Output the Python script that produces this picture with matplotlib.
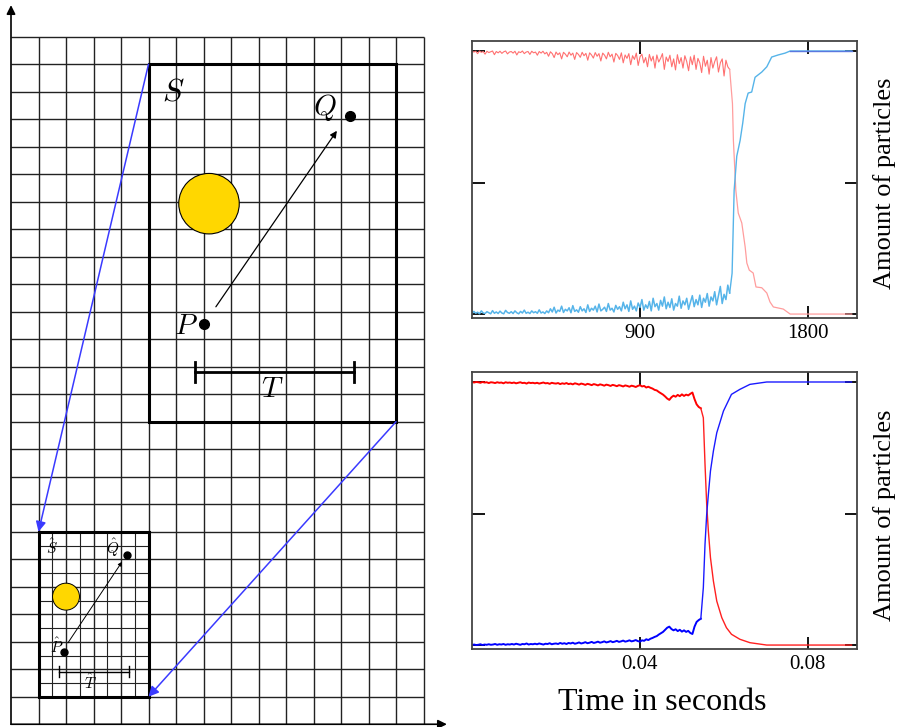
import matplotlib.pyplot as plt
from matplotlib.patches import Circle, Rectangle

plt.rcParams['font.family'] = ['Liberation Serif', 'DejaVu Serif']
plt.rcParams['mathtext.fontset'] = 'cm'

# ---- top chart: simulation steps ----
top_noise_t = list(range(0, 1381, 10))
top_red_noise = [
    1.0, 0.996, 0.999, 0.99, 1.0, 0.995, 0.998, 0.988, 0.999, 0.994,
    0.997, 1.0, 0.986, 0.998, 0.993, 0.999, 0.991, 0.997, 1.0, 0.989,
    0.996, 0.998, 0.992, 0.999, 0.985, 0.997, 0.994, 1.0, 0.99, 0.996,
    0.998, 0.987, 0.999, 0.993, 0.996, 0.984, 0.998, 0.992, 0.999, 0.989,
    0.995, 0.98, 0.997, 0.99, 0.975, 0.996, 0.986, 0.993, 0.97, 0.995,
    0.988, 0.978, 0.996, 0.984, 0.992, 0.968, 0.994, 0.987, 0.976, 0.995,
    0.982, 0.991, 0.965, 0.993, 0.985, 0.973, 0.994, 0.98, 0.99, 0.962,
    0.992, 0.984, 0.97, 0.995, 0.978, 0.988, 0.958, 0.991, 0.983, 0.968,
    0.993, 0.955, 0.985, 0.972, 0.99, 0.948, 0.982, 0.968, 0.992, 0.945,
    0.978, 0.988, 0.955, 0.975, 0.94, 0.987, 0.962, 0.98, 0.935, 0.985,
    0.958, 0.972, 0.99, 0.93, 0.977, 0.96, 0.984, 0.94, 0.97, 0.928,
    0.986, 0.952, 0.975, 0.935, 0.982, 0.96, 0.925, 0.978, 0.948, 0.984,
    0.93, 0.972, 0.955, 0.918, 0.98, 0.942, 0.965, 0.912, 0.975, 0.935,
    0.96, 0.978, 0.92, 0.955, 0.97, 0.905, 0.965, 0.94, 0.93,
]
top_blue_noise = [
    0.002, 0.01, 0.003, 0.007, 0.001, 0.012, 0.004, 0.002, 0.009, 0.005,
    0.001, 0.013, 0.003, 0.008, 0.002, 0.011, 0.004, 0.001, 0.014, 0.006,
    0.003, 0.009, 0.002, 0.012, 0.005, 0.001, 0.01, 0.004, 0.015, 0.003,
    0.007, 0.002, 0.012, 0.005, 0.009, 0.003, 0.016, 0.004, 0.008, 0.002,
    0.012, 0.005, 0.02, 0.008, 0.026, 0.004, 0.015, 0.01, 0.03, 0.006,
    0.018, 0.012, 0.024, 0.005, 0.032, 0.01, 0.016, 0.007, 0.028, 0.012,
    0.02, 0.006, 0.035, 0.01, 0.022, 0.015, 0.03, 0.008, 0.038, 0.012,
    0.018, 0.026, 0.01, 0.04, 0.015, 0.022, 0.008, 0.033, 0.018, 0.028,
    0.012, 0.045, 0.02, 0.035, 0.01, 0.05, 0.018, 0.03, 0.012, 0.042,
    0.025, 0.055, 0.015, 0.035, 0.022, 0.048, 0.012, 0.06, 0.028, 0.04,
    0.015, 0.052, 0.03, 0.065, 0.02, 0.045, 0.025, 0.058, 0.015, 0.04,
    0.03, 0.068, 0.022, 0.05, 0.035, 0.06, 0.018, 0.045, 0.07, 0.028,
    0.055, 0.035, 0.072, 0.025, 0.06, 0.045, 0.078, 0.03, 0.065, 0.05,
    0.085, 0.035, 0.07, 0.105, 0.04, 0.075, 0.055, 0.11, 0.08,
]
top_red_tail_t = [1380, 1395, 1400, 1413, 1426, 1445, 1463, 1472, 1485, 1506, 1521, 1552,
                  1579, 1596, 1614, 1667, 1704, 2034]
top_red_tail = [0.93, 0.80, 0.66, 0.47, 0.384, 0.346, 0.255, 0.194, 0.167, 0.156, 0.103, 0.10,
                0.08, 0.046, 0.027, 0.019, 0.0, 0.0]
top_blue_tail_t = [1380, 1393, 1404, 1418, 1436, 1450, 1463, 1479, 1498, 1516, 1552, 1579,
                   1605, 1640, 1677, 1704, 2034]
top_blue_tail = [0.08, 0.155, 0.47, 0.60, 0.66, 0.726, 0.80, 0.84, 0.844, 0.90, 0.92, 0.94,
                 0.977, 0.985, 0.992, 1.0, 1.0]
top_xticks = [900, 1800]

# ---- bottom chart: time in seconds ----
bot_noise_t = [i * 0.0005 for i in range(110)]
bot_red_noise = [
    1.0, 0.998, 1.0, 0.999, 0.997, 1.0, 0.998, 0.999, 0.996, 0.999,
    0.998, 0.996, 0.999, 0.997, 0.998, 0.995, 0.999, 0.997, 0.998, 0.996,
    0.998, 0.995, 0.997, 0.999, 0.996, 0.997, 0.994, 0.998, 0.996, 0.997,
    0.995, 0.997, 0.994, 0.996, 0.998, 0.995, 0.996, 0.993, 0.997, 0.995,
    0.994, 0.996, 0.992, 0.995, 0.993, 0.996, 0.992, 0.994, 0.991, 0.995,
    0.993, 0.99, 0.994, 0.992, 0.989, 0.993, 0.991, 0.988, 0.992, 0.99,
    0.987, 0.991, 0.989, 0.986, 0.99, 0.988, 0.985, 0.989, 0.987, 0.984,
    0.988, 0.986, 0.983, 0.987, 0.985, 0.982, 0.986, 0.984, 0.981, 0.985,
    0.988, 0.983, 0.985, 0.979, 0.982, 0.978, 0.975, 0.97, 0.968, 0.962,
    0.957, 0.952, 0.945, 0.937, 0.932, 0.942, 0.948, 0.944, 0.951, 0.946,
    0.953, 0.947, 0.952, 0.949, 0.955, 0.96, 0.935, 0.915, 0.905, 0.9,
]
bot_blue_noise = [
    0.0, 0.002, 0.0, 0.001, 0.003, 0.0, 0.002, 0.001, 0.003, 0.001,
    0.002, 0.004, 0.001, 0.003, 0.002, 0.004, 0.001, 0.003, 0.002, 0.004,
    0.002, 0.005, 0.003, 0.001, 0.004, 0.003, 0.006, 0.002, 0.004, 0.003,
    0.005, 0.003, 0.006, 0.004, 0.002, 0.005, 0.004, 0.007, 0.003, 0.005,
    0.006, 0.004, 0.008, 0.005, 0.007, 0.004, 0.008, 0.006, 0.009, 0.005,
    0.007, 0.01, 0.006, 0.008, 0.011, 0.007, 0.009, 0.012, 0.008, 0.01,
    0.013, 0.009, 0.011, 0.014, 0.01, 0.012, 0.015, 0.011, 0.013, 0.016,
    0.012, 0.014, 0.017, 0.013, 0.015, 0.018, 0.014, 0.016, 0.019, 0.015,
    0.013, 0.018, 0.016, 0.022, 0.019, 0.024, 0.027, 0.031, 0.034, 0.04,
    0.045, 0.05, 0.058, 0.066, 0.07, 0.061, 0.056, 0.06, 0.053, 0.058,
    0.051, 0.056, 0.05, 0.054, 0.046, 0.042, 0.07, 0.088, 0.095, 0.1,
]
bot_red_tail_t = [0.0545, 0.0551, 0.0555, 0.0559, 0.0563, 0.0568, 0.0575, 0.0583, 0.0595,
                  0.0606, 0.0618, 0.0638, 0.0662, 0.0702, 0.0904]
bot_red_tail = [0.9, 0.864, 0.687, 0.535, 0.433, 0.332, 0.243, 0.167, 0.104,
                0.066, 0.041, 0.022, 0.009, 0.0, 0.0]
bot_blue_tail_t = [0.0545, 0.0551, 0.0555, 0.0559, 0.0563, 0.0568, 0.0575, 0.0583, 0.0599,
                   0.0618, 0.0638, 0.0662, 0.0702, 0.0904]
bot_blue_tail = [0.1, 0.218, 0.383, 0.497, 0.573, 0.662, 0.738, 0.807, 0.89,
                 0.953, 0.972, 0.991, 1.0, 1.0]
bot_xticks = [0.04, 0.08]

fig = plt.figure(figsize=(8.98, 7.27), dpi=100)

# ---- left: grid sketch ----
ax = fig.add_axes([0, 0, 456.5 / 898, 726 / 727])
ax.set_xlim(-0.4, 16.2)
ax.set_ylim(-0.1, 26.3)
ax.axis('off')

ax.vlines(range(1, 16), 0, 25, color='#222222', lw=1.0)
ax.hlines(range(1, 26), 0, 15, color='#222222', lw=1.0)
# finer grid inside the small copy
ax.vlines([1.5, 2.5, 3.5, 4.5], 1, 7, color='#222222', lw=0.8)
ax.hlines([1.5, 2.5, 3.5, 4.5, 5.5, 6.5], 1, 5, color='#222222', lw=0.8)

# axes with arrows
ax.annotate('', xy=(0, 26.15), xytext=(0, 0),
            arrowprops=dict(arrowstyle='-|>', color='black', lw=1.2, shrinkA=0, shrinkB=0,
                            mutation_scale=13))
ax.annotate('', xy=(15.85, 0), xytext=(0, 0),
            arrowprops=dict(arrowstyle='-|>', color='black', lw=1.2, shrinkA=0, shrinkB=0,
                            mutation_scale=13))

# big domain S
ax.add_patch(Rectangle((5, 11), 9, 13, fill=False, ec='black', lw=2.2, zorder=3))
ax.add_patch(Circle((7.2, 18.93), 1.1, fc='#FFD700', ec='black', lw=0.8, zorder=3))
ax.plot([7.02, 12.33], [14.56, 22.13], 'o', color='black', ms=7, zorder=4)
ax.annotate('', xy=(11.85, 21.58), xytext=(7.45, 15.18),
            arrowprops=dict(arrowstyle='-|>', color='black', lw=0.9, shrinkA=0, shrinkB=0,
                            mutation_scale=10))
ax.plot([6.69, 12.47], [12.82, 12.82], color='black', lw=2)
ax.plot([6.69, 6.69], [12.46, 13.18], color='black', lw=2)
ax.plot([12.47, 12.47], [12.46, 13.18], color='black', lw=2)
ax.text(5.89, 22.96, r'$S$', fontsize=23, ha='center', va='center')
ax.text(11.42, 22.42, r'$Q$', fontsize=21, ha='center', va='center')
ax.text(6.35, 14.45, r'$P$', fontsize=21, ha='center', va='center')
ax.text(9.49, 12.16, r'$T$', fontsize=21, ha='center', va='center')

# small copy
ax.add_patch(Rectangle((1, 1), 4, 6, fill=False, ec='black', lw=2.2, zorder=3))
ax.add_patch(Circle((2.0, 4.64), 0.49, fc='#FFD700', ec='black', lw=0.7, zorder=3))
ax.plot([1.93, 4.22], [2.64, 6.16], 'o', color='black', ms=5, zorder=4)
ax.annotate('', xy=(4.04, 5.91), xytext=(2.07, 2.96),
            arrowprops=dict(arrowstyle='-|>', color='black', lw=0.7, shrinkA=0, shrinkB=0,
                            mutation_scale=6))
ax.plot([1.75, 4.29], [1.91, 1.91], color='black', lw=1)
ax.plot([1.75, 1.75], [1.71, 2.11], color='black', lw=1)
ax.plot([4.29, 4.29], [1.71, 2.11], color='black', lw=1)
ax.text(1.49, 6.42, r'$\hat{S}$', fontsize=11, ha='center', va='center')
ax.text(3.71, 6.42, r'$\hat{Q}$', fontsize=11, ha='center', va='center')
ax.text(1.67, 2.82, r'$\hat{P}$', fontsize=11, ha='center', va='center')
ax.text(2.9, 1.51, r'$\hat{T}$', fontsize=11, ha='center', va='center')

# blue mapping arrows
for start, end in [((5, 24), (1, 7)), ((14, 11), (5, 1))]:
    ax.annotate('', xy=end, xytext=start,
                arrowprops=dict(arrowstyle='-|>', color='#3a3aff', lw=1.1, shrinkA=0, shrinkB=0,
                                mutation_scale=15), zorder=5)


def style_axes(a, xticks):
    a.set_ylim(-0.015, 1.038)
    a.set_xticks(xticks)
    a.set_yticks([0, 0.5, 1])
    a.set_yticklabels([])
    a.tick_params(direction='in', length=9, width=1.3, top=True, right=True,
                  labelsize=15, pad=4, color='black')
    for s in a.spines.values():
        s.set_linewidth(1.3)
        s.set_color('#444444')


# ---- top right chart ----
ax1 = fig.add_axes([472 / 898, 1 - 318 / 727, 385 / 898, 277 / 727])
ax1.plot(top_noise_t, top_red_noise, color='#ff7070', lw=0.8)
ax1.plot(top_red_tail_t, top_red_tail, color='#ff9d9d', lw=0.9)
ax1.plot(top_noise_t, top_blue_noise, color='#56b4e9', lw=1.1)
ax1.plot(top_blue_tail_t, top_blue_tail, color='#56b4e9', lw=1.0)
ax1.plot(top_blue_tail_t[-2:], top_blue_tail[-2:], color='#5a78e0', lw=1.0)
ax1.set_xlim(0, 2062)
style_axes(ax1, top_xticks)
ax1.set_xticklabels([str(t) for t in top_xticks])

# ---- bottom right chart ----
ax2 = fig.add_axes([472 / 898, 1 - 649 / 727, 385 / 898, 277 / 727])
ax2.plot(bot_noise_t, bot_red_noise, color='#ff0000', lw=1.4)
ax2.plot(bot_red_tail_t, bot_red_tail, color='#ff2020', lw=1.0)
ax2.plot(bot_noise_t, bot_blue_noise, color='#0000ff', lw=1.4)
ax2.plot(bot_blue_tail_t, bot_blue_tail, color='#1a1aff', lw=1.0)
ax2.set_xlim(0, 0.0917)
style_axes(ax2, bot_xticks)
ax2.set_xticklabels(['0.04', '0.08'])

fig.text(885 / 898, 1 - 183 / 727, 'Amount of particles', rotation=90, fontsize=19,
         ha='center', va='center')
fig.text(885 / 898, 1 - 515 / 727, 'Amount of particles', rotation=90, fontsize=19,
         ha='center', va='center')
fig.text(662 / 898, 1 - 703 / 727, 'Time in seconds', fontsize=23, ha='center', va='center')

fig.savefig('out.png', dpi=100)
